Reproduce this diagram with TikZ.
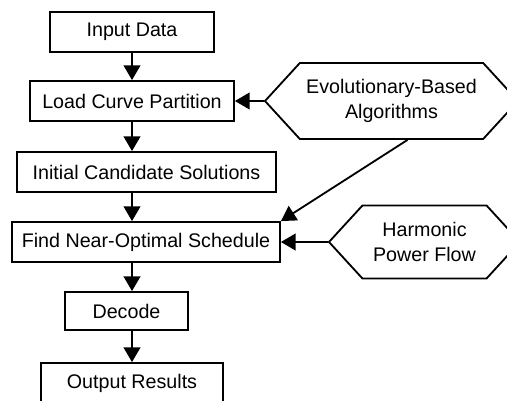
\documentclass[tikz,border=0pt]{standalone}
\usepackage{fontspec}
\setmainfont{Liberation Sans}
\usetikzlibrary{arrows.meta, shapes.symbols}

\begin{document}
\begin{tikzpicture}[>={Triangle[length=0.37cm, width=0.42cm]}, line width=1.3pt,
  font=\fontsize{14}{17.5}\selectfont]
% Define the node styles
\tikzstyle{block} = [draw, rectangle, minimum height=1cm, inner sep=2pt]
\tikzstyle{source} = [draw, signal, signal to=west and east, signal pointer angle=95,
  align=center, inner sep=2pt]

\useasboundingbox (0, 0) rectangle (12.675, -10.025);

% Define the nodes
\node[block, minimum width=4.1cm] (IND) at (3.3, -0.8) {Input Data};
\node[block, minimum width=5.1cm] (LCP) at (3.3, -2.525) {Load Curve Partition};
\node[block, minimum width=6.475cm] (ICS) at (3.6625, -4.3) {Initial Candidate Solutions};
\node[block, minimum width=6.7cm] (FNO) at (3.65, -6.05) {Find Near-Optimal Schedule};
\node[block, minimum width=3.075cm, minimum height=0.95cm] (DEC) at (3.1625, -7.775) {Decode};
\node[block, minimum width=4.55cm] (OUT) at (3.3, -9.575) {Output Results};

\node[source, minimum width=6.325cm, minimum height=1.9cm] (EBA) at (9.7875, -2.525)
  {Evolutionary-Based\\Algorithms};
\node[source, minimum width=4.775cm, minimum height=1.825cm] (HPF) at (10.6125, -6.05)
  {Harmonic\\Power Flow};

% Define the transitions
\draw[->] (IND) -- (LCP);
\draw[->] (LCP) -- (LCP |- ICS.north);
\draw[->] (LCP |- ICS.south) -- (LCP |- FNO.north);
\draw[->] (LCP |- FNO.south) -- (LCP |- DEC.north);
\draw[->] (LCP |- DEC.south) -- (OUT);

% Inputs from the two side blocks
\draw[->] (EBA.west) -- (LCP.east);
\draw[->] ([xshift=0.4cm]EBA.south) -- (FNO.north east);
\draw[->] (HPF.west) -- (FNO.east);

\end{tikzpicture}
\end{document}
